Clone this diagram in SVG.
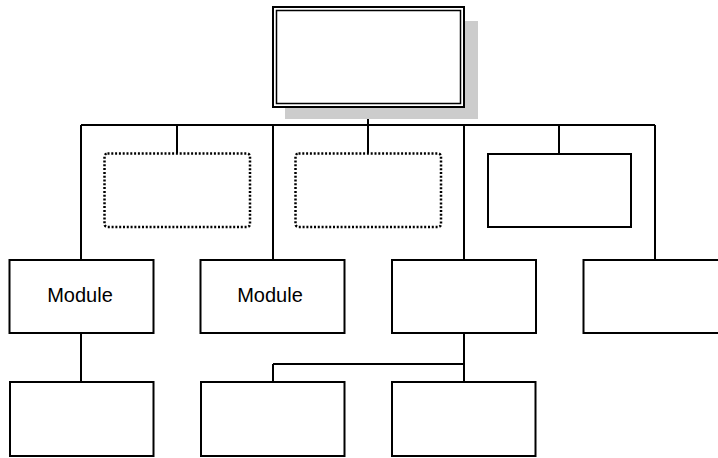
<svg xmlns="http://www.w3.org/2000/svg" width="718" height="458" viewBox="0 0 718 458">
<style>
.box{fill:#fff;stroke:#000;stroke-width:2}
.dot{fill:#fff;stroke:#000;stroke-width:2.5;stroke-dasharray:2 1.8}
.ln{fill:none;stroke:#000;stroke-width:2}
.lbl{font-family:"Liberation Sans",Arial,sans-serif;font-size:20px;fill:#000;text-anchor:middle}
</style>
<rect width="718" height="458" fill="#fff"/>
<g id="connectors">
<path class="ln" d="M368 107V125M81 125H655M81 125V260M273 125V260M464 125V260M655 125V260M177 125V153M368 125V153M559 125V154M81 333V382M464 333V382M273 364H464M273 364V382"/>
</g>
<g id="top">
<rect x="285" y="21" width="193" height="98" fill="#cccccc"/>
<rect x="273" y="7" width="191" height="100" class="box"/>
<rect x="276.5" y="10.5" width="184" height="93" fill="none" stroke="#000" stroke-width="1.5"/>
</g>
<g id="d1"><rect x="104.5" y="153.5" width="145.5" height="73.5" rx="3" class="dot"/></g>
<g id="d2"><rect x="295.5" y="153.5" width="145.5" height="73.5" rx="3" class="dot"/></g>
<g id="s3"><rect x="488" y="154" width="143" height="73" class="box"/></g>
<g id="m1"><rect x="9.5" y="260" width="144" height="73" class="box"/><text class="lbl" x="80" y="302">Module</text></g>
<g id="m2"><rect x="200.5" y="260" width="144" height="73" class="box"/><text class="lbl" x="270" y="302">Module</text></g>
<g id="m3"><rect x="392" y="260" width="144" height="73" class="box"/></g>
<g id="m4"><rect x="583.5" y="260" width="144" height="73" class="box"/></g>
<g id="b1"><rect x="10" y="382" width="143.5" height="74" class="box"/></g>
<g id="b2"><rect x="201" y="382" width="143.5" height="74" class="box"/></g>
<g id="b3"><rect x="392" y="382" width="143.5" height="74" class="box"/></g>
</svg>
